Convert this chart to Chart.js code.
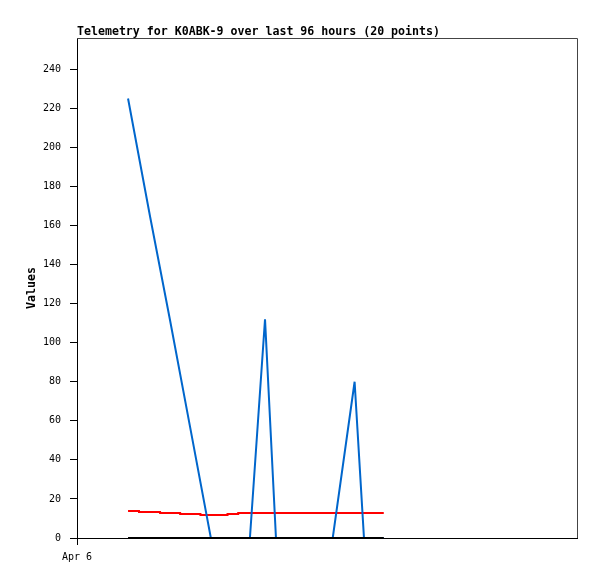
<!DOCTYPE html>
<html>
<head>
<meta charset="utf-8">
<script src="https://cdn.jsdelivr.net/npm/chart.js@4.4.0/dist/chart.umd.min.js"></script>
<style>
  html, body { margin: 0; padding: 0; background: #fff; }
  #wrap { width: 597px; height: 579px; }
</style>
</head>
<body>
<div id="wrap"><canvas id="chart" width="597" height="579"></canvas></div>
<script>
// hours since Apr 6 00:00 for each telemetry sample
const hours = [9.8, 14.0, 17.9, 21.7, 25.7, 27.8, 30.0, 31.9, 33.2, 36.1,
               38.2, 40.9, 43.8, 46.7, 49.1, 53.3, 55.1, 56.6, 57.8, 58.9];
// channel values
const blueVals  = [225, 165, 111, 57, 0, 0, 0, 0, 0, 112,
                   0, 0, 0, 0, 0, 80, 0, 0, 0, 0];
const redVals   = [13.8, 13.3, 12.8, 12.3, 11.8, 11.8, 12.3, 12.8, 12.8, 12.8,
                   12.8, 12.8, 12.8, 12.8, 12.8, 12.8, 12.8, 12.8, 12.8, 12.8];
const blackVals = [0, 0, 0, 0, 0, 0, 0, 0, 0, 0,
                   0, 0, 0, 0, 0, 0, 0, 0, 0, 0];
const yTicks = [0, 20, 40, 60, 80, 100, 120, 140, 160, 180, 200, 220, 240];
const xTickLabel = 'Apr 6';
const titleText = 'Telemetry for K0ABK-9 over last 96 hours (20 points)';

function pts(vals) {
  return vals.map((v, i) => ({x: hours[i], y: v}));
}

const mono = 'DejaVu Sans Mono';

// title sits on the plot's left edge, and the plot has a grey frame top/right
const framePlugin = {
  id: 'frame',
  beforeDatasetsDraw(chart) {
    const a = chart.chartArea, ctx = chart.ctx;
    ctx.save();
    ctx.strokeStyle = '#444';
    ctx.lineWidth = 1;
    ctx.beginPath();
    ctx.moveTo(a.left, a.top + 0.5);
    ctx.lineTo(a.right + 0.5, a.top + 0.5);
    ctx.lineTo(a.right + 0.5, a.bottom);
    ctx.stroke();
    ctx.restore();
  },
  afterDraw(chart) {
    const a = chart.chartArea, ctx = chart.ctx;
    ctx.save();
    ctx.fillStyle = '#000';
    ctx.font = 'bold 11.6px "' + mono + '"';
    ctx.textAlign = 'left';
    ctx.textBaseline = 'alphabetic';
    ctx.fillText(titleText, a.left, 35);
    ctx.restore();
  }
};

const config = {
  type: 'line',
  data: {
    datasets: [
      { data: pts(blackVals), borderColor: '#000', borderWidth: 2 },
      { data: pts(blueVals), borderColor: '#0066cc', borderWidth: 2 },
      { data: pts(redVals), borderColor: '#ff0000', borderWidth: 2, stepped: 'middle' }
    ]
  },
  options: {
    responsive: false,
    animation: false,
    layout: { padding: { top: 38, right: 20, left: 0, bottom: 0 } },
    elements: { point: { radius: 0 }, line: { tension: 0 } },
    plugins: { legend: { display: false }, tooltip: { enabled: false }, title: { display: false } },
    scales: {
      x: {
        type: 'linear',
        min: 0, max: 96,
        afterBuildTicks(s) { s.ticks = [{value: 0}]; },
        afterFit(s) { s.height = 41; },
        grid: { drawOnChartArea: false, drawTicks: true, tickLength: 7, color: '#000' },
        border: { display: true, color: '#000', width: 1 },
        ticks: {
          padding: 6, maxRotation: 0, autoSkip: false,
          color: '#000', font: { family: mono, size: 10 },
          callback: (v) => v === 0 ? xTickLabel : ''
        }
      },
      y: {
        min: 0, max: 256,
        afterBuildTicks(s) { s.ticks = yTicks.map(v => ({value: v})); },
        afterFit(s) { s.width = 77; },
        grid: { drawOnChartArea: false, drawTicks: true, tickLength: 7, color: '#000' },
        border: { display: true, color: '#000', width: 1 },
        ticks: { padding: 9, color: '#000', font: { family: mono, size: 10 } },
        title: {
          display: true, text: 'Values', color: '#000',
          padding: { top: 25, bottom: 0 },
          font: { family: mono, size: 11.6, weight: 'bold' }
        }
      }
    }
  },
  plugins: [framePlugin]
};

var myChart = new Chart(document.getElementById('chart').getContext('2d'), config);
</script>
</body>
</html>
